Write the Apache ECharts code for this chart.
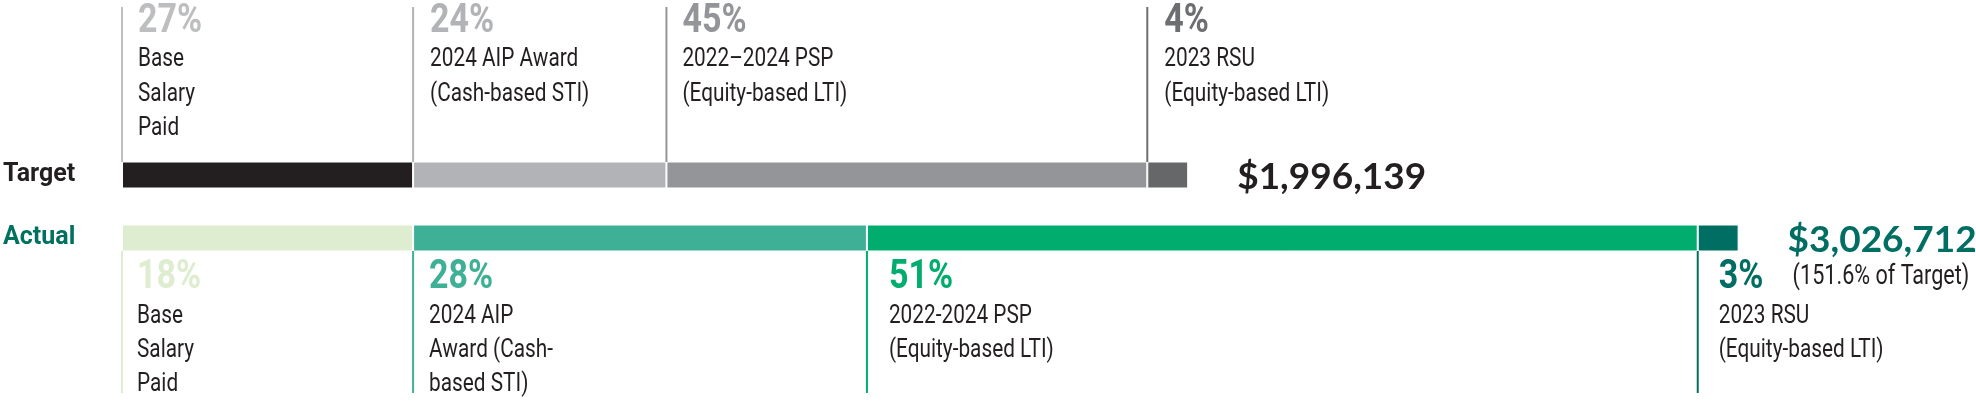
<!DOCTYPE html>
<html><head><meta charset="utf-8">
<script src="https://cdn.jsdelivr.net/npm/echarts@6/dist/echarts.min.js"></script>
<style>html,body{margin:0;padding:0;background:#fff}#c{width:1976px;height:403px}</style>
</head><body><div id="c"></div>
<script>
// ---- data ----
const rows = ['Target', 'Actual'];
const components = ['Base Salary Paid', 'AIP Award', 'PSP', 'RSU'];
const targetValues = [545000, 474300, 900300, 76539];
const actualValues = [545000, 849700, 1555473, 76539];
const targetPct = ['27%', '24%', '45%', '4%'];
const actualPct = ['18%', '28%', '51%', '3%'];
const targetDesc = ['Base\nSalary\nPaid', '2024 AIP Award\n(Cash-based STI)', '2022–2024 PSP\n(Equity-based LTI)', '2023 RSU\n(Equity-based LTI)'];
const actualDesc = ['Base\nSalary\nPaid', '2024 AIP\nAward (Cash-\nbased STI)', '2022-2024 PSP\n(Equity-based LTI)', '2023 RSU\n(Equity-based LTI)'];
const totalLabels = ['$1,996,139', '$3,026,712'];
const actualNote = '(151.6% of Target)';

// ---- style ----
const targetColors = ['#231f20', '#b1b3b6', '#939598', '#666769'];
const targetLabelColors = ['#bcbec0', '#b1b3b6', '#939598', '#6d6e71'];
const actualColors = ['#deedcf', '#3eb096', '#00ad6f', '#006e62'];
const rowLabelColors = ['#231f20', '#00715f'];
const totalColors = ['#231f20', '#006e62'];
const BASEF = 'Roboto,"Noto Sans",sans-serif';
const TOTALF = 'Lato,"Open Sans",sans-serif';
const DESC_SCALE = 0.8;
const PCT_SCALE = 0.85;
const BAR_H = 26;
const targetDx = [16, 17, 16, 17];
const actualDx = [15, 16, 22, 21];

const chart = echarts.init(document.getElementById('c'), null, {renderer: 'canvas'});

const barSeries = components.map((name, i) => ({
  name: name,
  type: 'bar',
  stack: 'total',
  barWidth: BAR_H + 1,
  silent: true,
  itemStyle: {borderColor: '#ffffff', borderWidth: 1},
  data: [
    {value: targetValues[i], itemStyle: {color: targetColors[i]}},
    {value: actualValues[i], itemStyle: {color: actualColors[i]}}
  ]
}));

function starts(vals) {
  let s = 0; return vals.map(v => { const r = s; s += v; return r; });
}
const annoData = [];
starts(targetValues).forEach((s, i) => annoData.push([s, 0, i]));
starts(actualValues).forEach((s, i) => annoData.push([s, 1, i]));

const sum = a => a.reduce((x, y) => x + y, 0);
const totalData = [[sum(targetValues), 0], [sum(actualValues), 1]];

function pctText(x, y, text, col) {
  return {type: 'text', x: x, y: y, scaleX: PCT_SCALE, style: {text: text, fill: col, font: 'bold 40px ' + BASEF, align: 'left', verticalAlign: 'middle'}};
}
function descText(x, y, text, lh) {
  return {type: 'text', x: x, y: y, scaleX: DESC_SCALE, style: {text: text, fill: '#231f20', font: '26px ' + BASEF, lineHeight: lh, align: 'left', verticalAlign: 'top'}};
}

function renderAnno(params, api) {
  const start = api.value(0), r = api.value(1), i = api.value(2);
  const p = api.coord([start, r]);
  const x = p[0], cy = p[1], half = BAR_H / 2;
  const ch = [];
  if (r === 0) {
    const col = targetLabelColors[i];
    ch.push({type: 'line', shape: {x1: x, y1: cy - 168, x2: x, y2: cy - half}, style: {stroke: col, lineWidth: 2}});
    ch.push(pctText(x + targetDx[i], cy - 153, targetPct[i], col));
    ch.push(descText(x + targetDx[i], cy - 132.5, targetDesc[i], 34.5));
  } else {
    const col = actualColors[i];
    ch.push({type: 'line', shape: {x1: x, y1: cy + half, x2: x, y2: cy + 155}, style: {stroke: col, lineWidth: 2}});
    ch.push(pctText(x + actualDx[i], cy + 40, actualPct[i], col));
    ch.push(descText(x + actualDx[i], cy + 61, actualDesc[i], 34));
  }
  return {type: 'group', children: ch};
}

function renderTotals(params, api) {
  const total = api.value(0), r = api.value(1);
  const p = api.coord([total, r]);
  const ch = [{type: 'text', x: p[0] + 49, y: p[1] + 2, style: {text: totalLabels[r], fill: totalColors[r], font: 'bold 37px ' + TOTALF, align: 'left', verticalAlign: 'middle'}}];
  if (r === 1) {
    ch.push({type: 'text', x: p[0] + 54, y: p[1] + 39, scaleX: DESC_SCALE, style: {text: actualNote, fill: '#231f20', font: '27px ' + BASEF, align: 'left', verticalAlign: 'middle'}});
  }
  return {type: 'group', children: ch};
}

chart.setOption({
  animation: false,
  backgroundColor: '#ffffff',
  grid: {left: 118, top: 143.5, width: 1820, height: 126, containLabel: false},
  xAxis: {type: 'value', min: 0, max: 3400000, show: false},
  yAxis: {
    type: 'category', data: rows, inverse: true,
    axisLine: {show: false}, axisTick: {show: false}, splitLine: {show: false},
    axisLabel: {
      align: 'left', margin: 119, fontSize: 25, fontWeight: 'bold', fontFamily: BASEF,
      color: (v, idx) => rowLabelColors[rows.indexOf(v)]
    }
  },
  series: barSeries.concat([
    {type: 'custom', coordinateSystem: 'cartesian2d', encode: {x: 0, y: 1}, clip: false, silent: true, z: 5, renderItem: renderAnno, data: annoData},
    {type: 'custom', coordinateSystem: 'cartesian2d', encode: {x: 0, y: 1}, clip: false, silent: true, z: 5, renderItem: renderTotals, data: totalData}
  ])
});
</script></body></html>
